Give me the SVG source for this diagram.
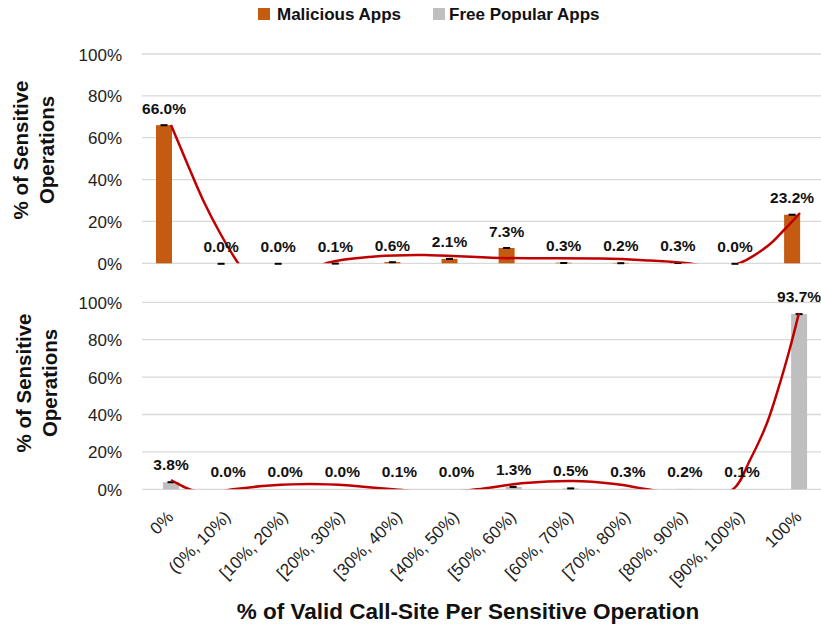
<svg xmlns="http://www.w3.org/2000/svg" width="821" height="627" viewBox="0 0 821 627">
<style>
text{font-family:"Liberation Sans",Arial,sans-serif}
.grid{stroke:#D9D9D9;stroke-width:1.3}
.tick{font-size:17px;fill:#222;text-anchor:end}
.cat{font-size:17px;fill:#222;text-anchor:end}
.dl{font-size:15.5px;font-weight:bold;fill:#111;text-anchor:middle}
.mal{fill:#C55A11}
.free{fill:#BFBFBF}
.cap{stroke:#000;stroke-width:2}
.trend{fill:none;stroke:#C00000;stroke-width:2.5}
.title{font-size:20.5px;font-weight:bold;fill:#111;text-anchor:middle}
.leg{font-size:17px;font-weight:bold;fill:#111}
</style>
<defs>
<clipPath id="clipTop"><rect x="142" y="40" width="680" height="223.3"/></clipPath>
<clipPath id="clipBot"><rect x="142" y="290" width="680" height="199.3"/></clipPath>
</defs>
<rect width="821" height="627" fill="#fff"/>

<g id="legend">
<rect x="258" y="8" width="12" height="12" class="mal"/>
<text x="277" y="20" class="leg">Malicious Apps</text>
<rect x="433" y="8" width="12" height="12" class="free"/>
<text x="449" y="20" class="leg">Free Popular Apps</text>
</g>

<g id="top-chart-grid">
<line x1="142" x2="821" y1="54" y2="54" class="grid"/>
<line x1="142" x2="821" y1="95.9" y2="95.9" class="grid"/>
<line x1="142" x2="821" y1="137.7" y2="137.7" class="grid"/>
<line x1="142" x2="821" y1="179.6" y2="179.6" class="grid"/>
<line x1="142" x2="821" y1="221.4" y2="221.4" class="grid"/>
<line x1="142" x2="821" y1="263.3" y2="263.3" class="grid"/>
<text x="122" y="60.5" class="tick">100%</text>
<text x="122" y="102.4" class="tick">80%</text>
<text x="122" y="144.2" class="tick">60%</text>
<text x="122" y="186.1" class="tick">40%</text>
<text x="122" y="227.9" class="tick">20%</text>
<text x="122" y="269.8" class="tick">0%</text>
<text class="title" transform="translate(28,150) rotate(-90)">% of Sensitive</text>
<text class="title" transform="translate(54,150) rotate(-90)">Operations</text>
</g>

<g id="bottom-chart-grid">
<line x1="142" x2="821" y1="302.3" y2="302.3" class="grid"/>
<line x1="142" x2="821" y1="339.7" y2="339.7" class="grid"/>
<line x1="142" x2="821" y1="377.1" y2="377.1" class="grid"/>
<line x1="142" x2="821" y1="414.5" y2="414.5" class="grid"/>
<line x1="142" x2="821" y1="451.9" y2="451.9" class="grid"/>
<line x1="142" x2="821" y1="489.3" y2="489.3" class="grid"/>
<text x="122" y="308.8" class="tick">100%</text>
<text x="122" y="346.2" class="tick">80%</text>
<text x="122" y="383.6" class="tick">60%</text>
<text x="122" y="421" class="tick">40%</text>
<text x="122" y="458.4" class="tick">20%</text>
<text x="122" y="495.8" class="tick">0%</text>
<text class="title" transform="translate(31,383) rotate(-90)">% of Sensitive</text>
<text class="title" transform="translate(57,383) rotate(-90)">Operations</text>
</g>

<g id="top-bars">
<rect x="156" y="125.2" width="16" height="138.1" class="mal"/>
<rect x="327.3" y="263.1" width="16" height="0.2" class="mal"/>
<rect x="384.4" y="262" width="16" height="1.3" class="mal"/>
<rect x="441.5" y="258.9" width="16" height="4.4" class="mal"/>
<rect x="498.6" y="248" width="16" height="15.3" class="mal"/>
<rect x="555.7" y="262.7" width="16" height="0.6" class="mal"/>
<rect x="612.8" y="262.9" width="16" height="0.4" class="mal"/>
<rect x="669.9" y="262.7" width="16" height="0.6" class="mal"/>
<rect x="784.1" y="214.7" width="16" height="48.6" class="mal"/>
<g class="cap">
<line x1="160.5" x2="167.5" y1="125.2" y2="125.2"/>
<line x1="217.6" x2="224.6" y1="263.8" y2="263.8"/>
<line x1="274.7" x2="281.7" y1="263.8" y2="263.8"/>
<line x1="331.8" x2="338.8" y1="263.6" y2="263.6"/>
<line x1="388.9" x2="395.9" y1="262.2" y2="262.2"/>
<line x1="446" x2="453" y1="258.9" y2="258.9"/>
<line x1="503.1" x2="510.1" y1="248" y2="248"/>
<line x1="560.2" x2="567.2" y1="263" y2="263"/>
<line x1="617.3" x2="624.3" y1="263.2" y2="263.2"/>
<line x1="674.4" x2="681.4" y1="263" y2="263"/>
<line x1="731.5" x2="738.5" y1="263.8" y2="263.8"/>
<line x1="788.6" x2="795.6" y1="214.7" y2="214.7"/>
</g>
</g>

<g id="bottom-bars">
<rect x="163" y="482.2" width="16" height="7.1" class="free"/>
<rect x="391.4" y="489.1" width="16" height="0.2" class="free"/>
<rect x="505.6" y="486.9" width="16" height="2.4" class="free"/>
<rect x="562.7" y="488.4" width="16" height="0.9" class="free"/>
<rect x="619.8" y="488.7" width="16" height="0.6" class="free"/>
<rect x="676.9" y="488.9" width="16" height="0.4" class="free"/>
<rect x="734" y="489.1" width="16" height="0.2" class="free"/>
<rect x="791.1" y="314.1" width="16" height="175.2" class="free"/>
<g class="cap">
<line x1="167.5" x2="174.5" y1="482.2" y2="482.2"/>
<line x1="509.6" x2="516.6" y1="486.9" y2="486.9"/>
<line x1="567.2" x2="574.2" y1="488.4" y2="488.4"/>
<line x1="795.6" x2="802.6" y1="314.1" y2="314.1"/>
</g>
</g>

<g id="connectors">
<path class="trend" clip-path="url(#clipTop)" d="M171,125 C176.33,137.67 181.67,150.5 187,163 C192.33,175.5 197.5,188.33 203,200 C208.5,211.67 214.17,222.5 220,233 C225.83,243.5 232,254 238,263 C246,275 262,285 282,285 C298,285 311.17,267.42 327,263 C342.83,258.58 358.67,257.83 375,256.5 C391.33,255.17 404.17,254.75 425,255 C445.83,255.25 470.83,257.42 500,258 C529.17,258.58 575,258.08 600,258.5 C625,258.92 635,259.67 650,260.5 C665,261.33 679.17,262.25 690,263.5 C700.83,264.75 706.67,268.08 715,268 C723.33,267.92 731.33,266.58 740,263 C748.67,259.42 759.67,252 767,246.5 C774.33,241 778.5,235.58 784,230 C789.5,224.42 794.67,218.67 800,213"/>
<path class="trend" clip-path="url(#clipBot)" d="M171,480 C177.33,483.17 183.33,487.33 190,489.5 C196.67,491.67 203.83,493.03 211,493 C218.17,492.97 223.17,490.55 233,489.3 C242.83,488.05 257.17,486.38 270,485.5 C282.83,484.62 296.67,484 310,484 C323.33,484 336.17,484.62 350,485.5 C364.17,486.67 378.83,488.13 393,489.3 C407.17,490.47 421,492.5 435,492.5 C449,492.5 462,490.88 477,489.3 C492,487.72 509,484.38 525,483 C541,481.62 558,480.83 573,481 C588,481.17 602.67,482.62 615,484 C627.33,485.38 632.83,487.13 647,489.3 C661.17,491.47 685.67,497 700,497 C714.33,497 724.67,495.47 733,489.3 C741.33,483.13 744.33,471.05 750,460 C755.67,448.95 762,435.83 767,423 C772,410.17 776.17,395.5 780,383 C783.83,370.5 786.83,359.67 790,348 C793.17,336.33 796,324.67 799,313"/>
</g>

<g id="top-labels">
<text x="164" y="113.7" class="dl">66.0%</text>
<text x="221.1" y="251.8" class="dl">0.0%</text>
<text x="278.2" y="251.8" class="dl">0.0%</text>
<text x="335.3" y="251.6" class="dl">0.1%</text>
<text x="392.4" y="250.5" class="dl">0.6%</text>
<text x="449.5" y="247.4" class="dl">2.1%</text>
<text x="506.6" y="236.5" class="dl">7.3%</text>
<text x="563.7" y="251.2" class="dl">0.3%</text>
<text x="620.8" y="251.4" class="dl">0.2%</text>
<text x="677.9" y="251.2" class="dl">0.3%</text>
<text x="735" y="251.8" class="dl">0.0%</text>
<text x="792.1" y="203.2" class="dl">23.2%</text>
</g>

<g id="bottom-labels">
<text x="171" y="470.2" class="dl">3.8%</text>
<text x="228.1" y="477.3" class="dl">0.0%</text>
<text x="285.2" y="477.3" class="dl">0.0%</text>
<text x="342.3" y="477.3" class="dl">0.0%</text>
<text x="399.4" y="477.1" class="dl">0.1%</text>
<text x="456.5" y="477.3" class="dl">0.0%</text>
<text x="513.6" y="474.9" class="dl">1.3%</text>
<text x="570.7" y="476.4" class="dl">0.5%</text>
<text x="627.8" y="476.7" class="dl">0.3%</text>
<text x="684.9" y="476.9" class="dl">0.2%</text>
<text x="742" y="477.1" class="dl">0.1%</text>
<text x="799.1" y="302.1" class="dl">93.7%</text>
</g>

<g id="x-axis">
<text class="cat" transform="translate(174.5,518) rotate(-45)">0%</text>
<text class="cat" transform="translate(231.6,518) rotate(-45)">(0%, 10%)</text>
<text class="cat" transform="translate(288.7,518) rotate(-45)">[10%, 20%)</text>
<text class="cat" transform="translate(345.8,518) rotate(-45)">[20%, 30%)</text>
<text class="cat" transform="translate(402.9,518) rotate(-45)">[30%, 40%)</text>
<text class="cat" transform="translate(460,518) rotate(-45)">[40%, 50%)</text>
<text class="cat" transform="translate(517.1,518) rotate(-45)">[50%, 60%)</text>
<text class="cat" transform="translate(574.2,518) rotate(-45)">[60%, 70%)</text>
<text class="cat" transform="translate(631.3,518) rotate(-45)">[70%, 80%)</text>
<text class="cat" transform="translate(688.4,518) rotate(-45)">[80%, 90%)</text>
<text class="cat" transform="translate(745.5,518) rotate(-45)">[90%, 100%)</text>
<text class="cat" transform="translate(802.6,518) rotate(-45)">100%</text>
<text x="468" y="619" style="font-size:22.5px;font-weight:bold;fill:#111;text-anchor:middle">% of Valid Call-Site Per Sensitive Operation</text>
</g>
</svg>
